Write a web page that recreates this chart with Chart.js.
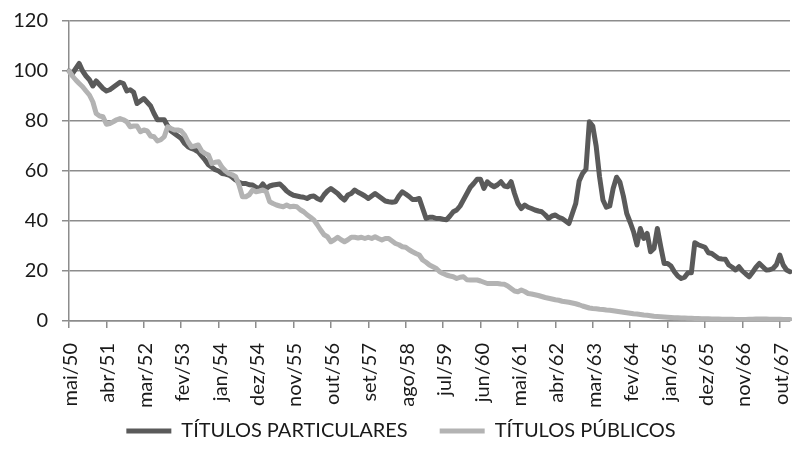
<!DOCTYPE html>
<html>
<head>
<meta charset="utf-8">
<script src="https://cdn.jsdelivr.net/npm/chart.js@4"></script>
<style>
  html, body { margin: 0; padding: 0; background: #fff; }
  #wrap { position: relative; width: 792px; height: 466px; }
  .xlab {
    position: absolute;
    writing-mode: vertical-rl;
    transform: rotate(180deg);
    font-family: Lato, sans-serif;
    font-size: 20px;
    line-height: 20px;
    color: #1a1a1a;
    white-space: nowrap;
  }
</style>
</head>
<body>
<div id="wrap"><canvas id="chart" width="792" height="466"></canvas></div>
<script>
// monthly index, mai/50 = 100
const monthNames = ['jan', 'fev', 'mar', 'abr', 'mai', 'jun', 'jul', 'ago', 'set', 'out', 'nov', 'dez'];
const startMonth = 4;   // mai
const startYear = 50;
const labelStep = 11;   // one tick label every 11 months

const particulares = [
  100, 99, 101, 103, 100, 98, 96.5, 94, 96, 94.5, 93, 92, 92.5, 93.5, 94.5, 95.5, 95, 92, 92.5, 91.5,
  87, 88, 89, 87.5, 86, 83, 80.5, 80.5, 80.5, 78, 76, 75, 74, 73, 71, 69.7, 69, 68.5, 67.7, 66,
  64.4, 62.5, 61.5, 60.5, 60, 59, 58.8, 58.4, 57.5, 56.4, 55.5, 55, 55, 54.5, 54.4, 53.5, 53, 54.8, 53, 54,
  54.4, 54.6, 54.8, 53.5, 52, 51, 50.3, 50, 49.7, 49.5, 49, 49.8, 50, 49, 48.4, 50.5, 52, 53, 52, 51,
  49.5, 48.4, 50.4, 51, 52.4, 51.5, 50.8, 50, 49, 50, 51, 50, 49, 48, 47.7, 47.5, 47.7, 50, 51.7, 50.8,
  49.8, 48.6, 48.6, 49, 45, 41, 41.5, 41.5, 41, 41, 40.7, 40.5, 42, 43.7, 44.4, 46, 48.5, 51, 53.5, 55,
  56.7, 56.7, 53, 55.7, 54.5, 53.7, 54.5, 55.7, 54, 53.7, 55.7, 51, 47, 45, 46.4, 45.5, 45, 44.4, 44, 43.7,
  42.5, 41, 42, 42.4, 41.5, 41, 40, 39, 43, 47, 56, 59, 60.7, 79.7, 78, 70, 57.7, 48.4, 45.5, 46,
  53, 57.5, 55.5, 50, 43, 39.5, 35.7, 30.4, 37, 33, 35, 27.7, 29, 37, 29.7, 23, 23, 22, 19.7, 18,
  17, 17.5, 19.3, 19.3, 31.3, 30.5, 30, 29.5, 27.3, 27, 26, 25, 24.8, 24.7, 22.4, 21.5, 20.4, 21.7, 20, 18.8,
  17.7, 19.5, 21.5, 23, 21.7, 20.4, 20.5, 21, 22.5, 26.4, 22.4, 20.4, 19.7
];

const publicos = [
  100, 98, 96.4, 95, 93.7, 92, 90.4, 87.7, 83, 82, 81.7, 78.7, 79, 79.7, 80.5, 81, 80.5, 79.7, 77.7, 78,
  78, 75.7, 76.4, 76, 74, 73.7, 72, 72.5, 73.7, 77.7, 77, 76.4, 76.4, 76, 74.4, 71.7, 69.7, 70, 70.4, 68,
  67, 66.4, 63, 63.5, 63.7, 61.5, 60, 59, 58.5, 57.7, 54.4, 49.7, 49.7, 50.5, 52.4, 51.7, 52, 52.4, 51.7, 47.7,
  47, 46.4, 46, 45.7, 46.4, 45.7, 45.9, 45.7, 44.5, 43.7, 42.5, 41.5, 40.4, 38.5, 36.4, 34.5, 33.7, 31.7, 32.5, 33.5,
  32.5, 31.7, 32.5, 33.5, 33.5, 33.2, 33.5, 33, 33.5, 33, 33.7, 33, 32.4, 33, 33, 32, 31, 30.5, 29.7, 29.5,
  28.5, 27.7, 27, 26.4, 24.4, 23.5, 22.4, 21.7, 21, 19.7, 19, 18.4, 18, 17.7, 17, 17.5, 17.7, 16.5, 16.4, 16.4,
  16.4, 16, 15.5, 15, 15, 15, 15, 14.8, 14.7, 14, 13, 12, 11.7, 12.4, 11.8, 11, 10.8, 10.5, 10.2, 9.8,
  9.4, 9.1, 8.8, 8.5, 8.3, 7.9, 7.7, 7.5, 7.2, 6.9, 6.5, 6, 5.6, 5.2, 5, 4.9, 4.7, 4.6, 4.4, 4.3,
  4.1, 3.9, 3.7, 3.5, 3.3, 3.1, 2.9, 2.8, 2.6, 2.4, 2.3, 2.1, 1.9, 1.8, 1.7, 1.6, 1.5, 1.4, 1.3, 1.3,
  1.2, 1.2, 1.1, 1.1, 1, 1, 0.9, 0.9, 0.9, 0.8, 0.8, 0.8, 0.7, 0.7, 0.7, 0.7, 0.6, 0.6, 0.6, 0.6,
  0.7, 0.7, 0.8, 0.8, 0.8, 0.8, 0.7, 0.7, 0.7, 0.7, 0.6, 0.6, 0.6
];

// category labels: mai/50, jun/50, ...
const labels = particulares.map((v, i) => {
    const m = startMonth + i;
    return monthNames[m % 12] + '/' + (startYear + Math.floor(m / 12));
});

const axisGray = '#8c8c8c';
const textColor = '#1a1a1a';
const tickFont = { family: 'Lato', size: 20 };

const ctx = document.getElementById('chart').getContext('2d');
const chart = new Chart(ctx, {
    type: 'line',
    data: {
        labels: labels,
        datasets: [{
            label: 'TÍTULOS PARTICULARES',
            data: particulares,
            borderColor: '#5a5a5a',
            backgroundColor: '#5a5a5a',
            borderWidth: 5,
            borderJoinStyle: 'round',
            borderCapStyle: 'round',
            pointRadius: 0,
            tension: 0,
            order: 1
        }, {
            label: 'TÍTULOS PÚBLICOS',
            data: publicos,
            borderColor: '#b3b3b3',
            backgroundColor: '#b3b3b3',
            borderWidth: 5,
            borderJoinStyle: 'round',
            borderCapStyle: 'round',
            pointRadius: 0,
            tension: 0,
            order: 0
        }]
    },
    options: {
        responsive: false,
        animation: false,
        layout: { padding: { left: 12, right: 2, top: 21, bottom: 15 } },
        plugins: {
            tooltip: { enabled: false },
            legend: {
                position: 'bottom',
                labels: {
                    usePointStyle: true,
                    pointStyle: 'line',
                    pointStyleWidth: 45,
                    padding: 32,
                    color: textColor,
                    font: tickFont,
                    sort: (a, b) => a.datasetIndex - b.datasetIndex
                }
            }
        },
        scales: {
            x: {
                ticks: { display: false },
                grid: { drawOnChartArea: false, tickLength: 7, color: axisGray, lineWidth: 1.5 },
                border: { color: axisGray, width: 1.5 },
                afterBuildTicks: axis => {
                    axis.ticks = axis.ticks.filter(t => t.value % labelStep === 0);
                },
                afterFit: axis => { axis.height = 68; }
            },
            y: {
                min: 0,
                max: 120,
                ticks: { stepSize: 20, padding: 14, color: textColor, font: tickFont },
                grid: { color: axisGray, lineWidth: 1.5, tickLength: 7 },
                border: { color: axisGray, width: 1.5 },
                afterFit: axis => {
                    axis.width = 57;
                    axis.paddingTop = 0;
                    axis.paddingBottom = 0;
                }
            }
        }
    }
});

// rotated month labels, placed on the x scale's tick positions
const wrap = document.getElementById('wrap');
const xScale = chart.scales.x;
xScale.ticks.forEach(t => {
    const el = document.createElement('div');
    el.className = 'xlab';
    el.textContent = labels[t.value];
    el.style.left = (xScale.getPixelForValue(t.value) - 10) + 'px';
    el.style.top = (xScale.top + 22) + 'px';
    wrap.appendChild(el);
});
</script>
</body>
</html>
